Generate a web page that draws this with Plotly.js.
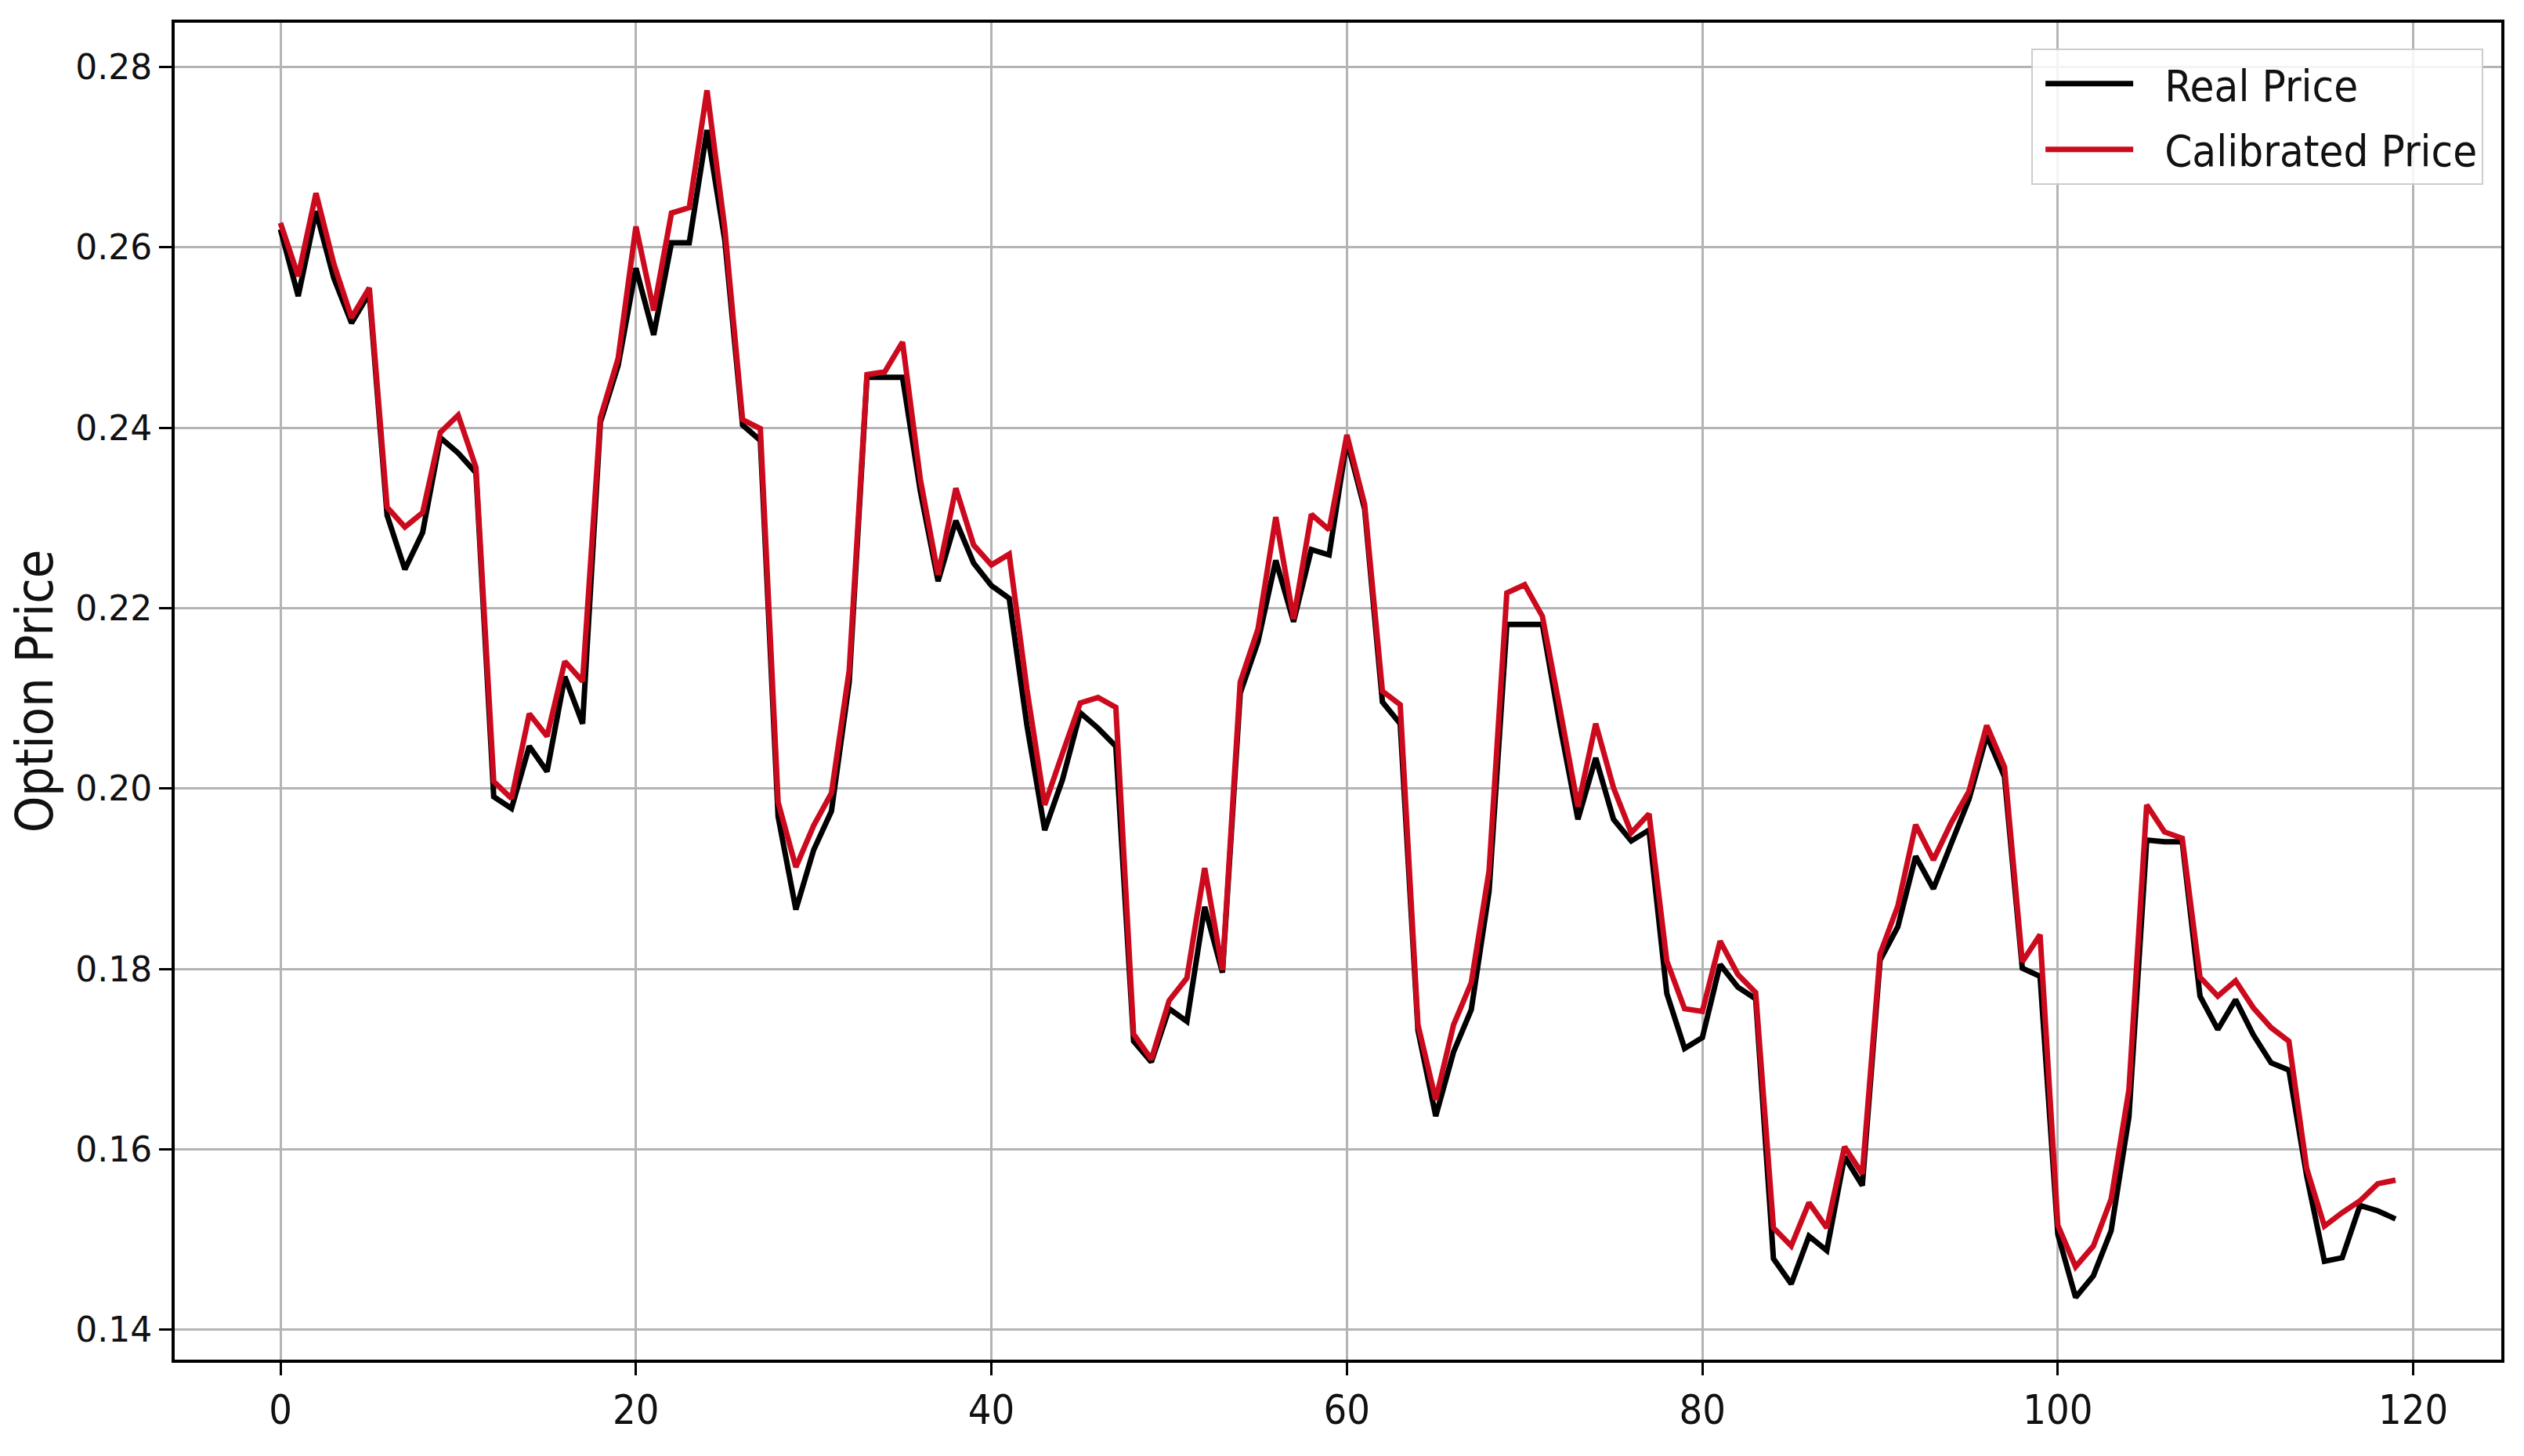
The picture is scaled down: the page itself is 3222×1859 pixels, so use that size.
<!DOCTYPE html>
<html>
<head>
<meta charset="utf-8">
<script src="https://cdn.plot.ly/plotly-3.0.1.min.js"></script>
<style>
  html, body { margin: 0; padding: 0; background: #fff; }
  #chart { width: 3222px; height: 1859px; }
</style>
</head>
<body>
<div id="chart"></div>
<script>
// Option prices per day index
const realPrice = [
  0.2620, 0.2546, 0.2640, 0.2566, 0.2516, 0.2549, 0.2303, 0.2243, 0.2284, 0.2389,
  0.2372, 0.2350, 0.1991, 0.1978, 0.2047, 0.2019, 0.2124, 0.2072, 0.2406, 0.2469,
  0.2577, 0.2503, 0.2605, 0.2605, 0.2730, 0.2608, 0.2403, 0.2386, 0.1969, 0.1866,
  0.1932, 0.1975, 0.2118, 0.2456, 0.2456, 0.2456, 0.2330, 0.2230, 0.2297, 0.2250,
  0.2225, 0.2211, 0.2070, 0.1954, 0.2010, 0.2084, 0.2067, 0.2047, 0.1720, 0.1697,
  0.1756, 0.1742, 0.1869, 0.1796, 0.2106, 0.2163, 0.2253, 0.2185, 0.2265, 0.2259,
  0.2386, 0.2310, 0.2096, 0.2072, 0.1732, 0.1637, 0.1708, 0.1755, 0.1886, 0.2182,
  0.2182, 0.2182, 0.2069, 0.1966, 0.2034, 0.1966, 0.1942, 0.1954, 0.1773, 0.1712,
  0.1724, 0.1805, 0.1780, 0.1767, 0.1479, 0.1451, 0.1504, 0.1488, 0.1592, 0.1560,
  0.1810, 0.1847, 0.1925, 0.1889, 0.1939, 0.1988, 0.2059, 0.2013, 0.1801, 0.1792,
  0.1506, 0.1436, 0.1460, 0.1510, 0.1636, 0.1943, 0.1941, 0.1941, 0.1770, 0.1733,
  0.1766, 0.1727, 0.1696, 0.1688, 0.1571, 0.1476, 0.1480, 0.1538, 0.1532, 0.1523
];

const calibratedPrice = [
  0.2627, 0.2568, 0.2660, 0.2582, 0.2522, 0.2555, 0.2312, 0.2290, 0.2306, 0.2395,
  0.2414, 0.2356, 0.2008, 0.1989, 0.2083, 0.2058, 0.2141, 0.2119, 0.2411, 0.2477,
  0.2623, 0.2530, 0.2638, 0.2644, 0.2774, 0.2621, 0.2409, 0.2399, 0.1985, 0.1913,
  0.1959, 0.1995, 0.2131, 0.2459, 0.2462, 0.2495, 0.2343, 0.2237, 0.2333, 0.2270,
  0.2248, 0.2260, 0.2110, 0.1982, 0.2039, 0.2095, 0.2101, 0.2090, 0.1728, 0.1700,
  0.1765, 0.1790, 0.1912, 0.1799, 0.2118, 0.2177, 0.2301, 0.2188, 0.2304, 0.2287,
  0.2392, 0.2315, 0.2108, 0.2093, 0.1738, 0.1655, 0.1738, 0.1785, 0.1909, 0.2217,
  0.2226, 0.2191, 0.2087, 0.1980, 0.2072, 0.2001, 0.1951, 0.1972, 0.1809, 0.1756,
  0.1753, 0.1831, 0.1794, 0.1774, 0.1513, 0.1493, 0.1541, 0.1513, 0.1603, 0.1573,
  0.1817, 0.1870, 0.1960, 0.1921, 0.1962, 0.1997, 0.2070, 0.2024, 0.1808, 0.1838,
  0.1516, 0.1470, 0.1493, 0.1545, 0.1666, 0.1982, 0.1952, 0.1945, 0.1791, 0.1770,
  0.1787, 0.1757, 0.1735, 0.1720, 0.1579, 0.1515, 0.1530, 0.1543, 0.1562, 0.1566
];

const seriesNames = ["Real Price", "Calibrated Price"];
const yTitle = "Option Price";

const days = realPrice.map((_, i) => i);

const traces = [
  {
    type: "scatter", mode: "lines",
    name: seriesNames[0], legendgroup: "a",
    x: days, y: realPrice,
    line: { color: "#000000", width: 7 }
  },
  {
    type: "scatter", mode: "lines",
    name: seriesNames[1], legendgroup: "b",
    x: days, y: calibratedPrice,
    line: { color: "#cc0a1e", width: 7 }
  }
];

const axisCommon = {
  showline: true, mirror: true, linecolor: "#000", linewidth: 4,
  showgrid: true, gridcolor: "#b4b4b4", gridwidth: 3,
  zeroline: false,
  ticks: "outside", ticklen: 16, tickwidth: 3, tickcolor: "#000"
};

const condensed = "DejaVu Sans Condensed, DejaVu Sans";

const layout = {
  width: 3222, height: 1859,
  paper_bgcolor: "#ffffff", plot_bgcolor: "#ffffff",
  margin: { l: 223, r: 29, t: 29, b: 123 },
  font: { family: "DejaVu Sans", color: "#111" },
  showlegend: true,
  xaxis: Object.assign({}, axisCommon, {
    range: [-5.95, 124.95], tick0: 0, dtick: 20,
    tickfont: { family: condensed, size: 52, color: "#111" }
  }),
  yaxis: Object.assign({}, axisCommon, {
    range: [0.1367, 0.2849], tick0: 0.14, dtick: 0.02, tickformat: ".2f",
    tickfont: { family: "DejaVu Sans", size: 44, color: "#111" },
    title: {
      text: yTitle, standoff: 8,
      font: { family: condensed, size: 66, color: "#111" }
    }
  }),
  legend: {
    x: 0.9923, y: 0.9807, xanchor: "right", yanchor: "top",
    bgcolor: "rgba(255,255,255,0.85)", bordercolor: "#cccccc", borderwidth: 2,
    font: { family: condensed, size: 56, color: "#111" },
    traceorder: "grouped", tracegroupgap: 8, itemwidth: 158
  }
};

Plotly.newPlot("chart", traces, layout, { staticPlot: true }).then(gd => {
  // longer legend line samples, like the original figure
  gd.querySelectorAll(".legend .legendlines path").forEach(p => {
    p.setAttribute("d", "M16,0h112");
  });
});
</script>
</body>
</html>
